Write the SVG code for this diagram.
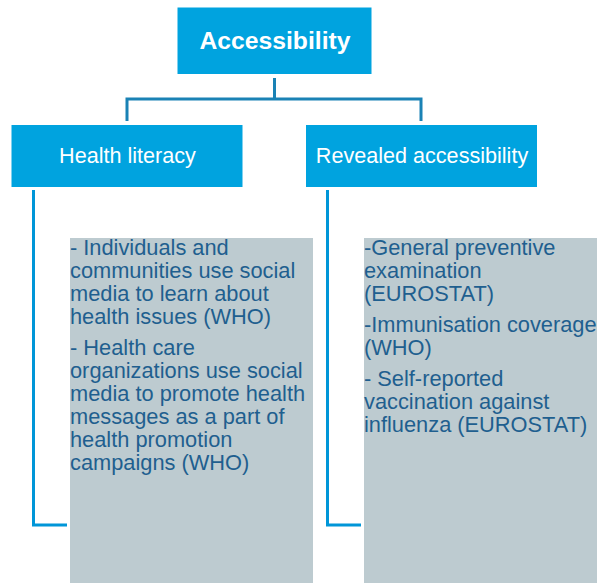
<svg xmlns="http://www.w3.org/2000/svg" width="597" height="583" viewBox="0 0 597 583">
<style>
.hdr{fill:#00a3df}
.panel{fill:#bdcbd0}
.t{font-family:"Liberation Sans",Arial,sans-serif}
.top{font-size:24.7px;font-weight:bold;fill:#fff}
.sub{font-size:21.6px;fill:#fff}
.body{font-size:21.8px;fill:#1f5f8f}
.conn{fill:none;stroke-width:3}
</style>
<rect width="597" height="583" fill="#fff"/>
<g id="connectors">
<path class="conn" stroke="#1a82b5" d="M274.5 78V99M127 99H421M127 97.5V121M421 97.5V121"/>
<path class="conn" stroke="#0096d8" d="M33.5 190V525H67"/>
<path class="conn" stroke="#0096d8" d="M327.5 190V525H361"/>
</g>
<g id="accessibility">
<rect class="hdr" x="177.5" y="7.5" width="194" height="66.5"/>
<text class="t top" x="275" y="48.5" text-anchor="middle">Accessibility</text>
</g>
<g id="health-literacy">
<rect class="hdr" x="11.5" y="125" width="231" height="62"/>
<text class="t sub" x="127.5" y="162.5" text-anchor="middle">Health literacy</text>
</g>
<g id="revealed-accessibility">
<rect class="hdr" x="306" y="125" width="231" height="62"/>
<text class="t sub" x="422" y="162.5" text-anchor="middle">Revealed accessibility</text>
</g>
<g id="health-literacy-details">
<rect class="panel" x="70" y="238" width="243" height="345"/>
<text class="t body">
<tspan x="70" y="255">- Individuals and</tspan>
<tspan x="70" y="278">communities use social</tspan>
<tspan x="70" y="301">media to learn about</tspan>
<tspan x="70" y="324">health issues (WHO)</tspan>
<tspan x="70" y="355">- Health care</tspan>
<tspan x="70" y="378">organizations use social</tspan>
<tspan x="70" y="401">media to promote health</tspan>
<tspan x="70" y="424">messages as a part of</tspan>
<tspan x="70" y="447">health promotion</tspan>
<tspan x="70" y="470">campaigns (WHO)</tspan>
</text>
</g>
<g id="revealed-accessibility-details">
<rect class="panel" x="364" y="238" width="233" height="345"/>
<text class="t body">
<tspan x="364" y="255">-General preventive</tspan>
<tspan x="364" y="278">examination</tspan>
<tspan x="364" y="301">(EUROSTAT)</tspan>
<tspan x="364" y="332">-Immunisation coverage</tspan>
<tspan x="364" y="355">(WHO)</tspan>
<tspan x="364" y="386">- Self-reported</tspan>
<tspan x="364" y="409">vaccination against</tspan>
<tspan x="364" y="432">influenza (EUROSTAT)</tspan>
</text>
</g>
</svg>
